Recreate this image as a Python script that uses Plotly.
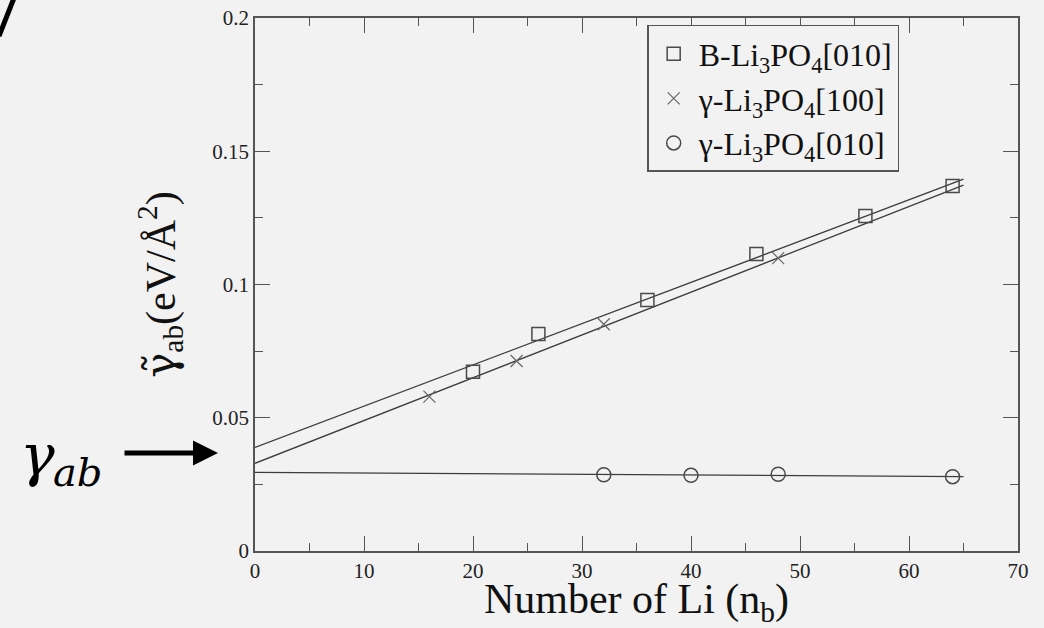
import plotly.graph_objects as go

# ---- data ----
x_B010 = [20, 26, 36, 46, 56, 64]
y_B010 = [0.0673, 0.0814, 0.0942, 0.1114, 0.1257, 0.1370]

x_g100 = [16, 24, 32, 48]
y_g100 = [0.0579, 0.0713, 0.0851, 0.1099]

x_g010 = [32, 40, 48, 64]
y_g010 = [0.0286, 0.0284, 0.0288, 0.0279]

fit_x = [0, 65]
fit_B010 = [0.0389, 0.1395]
fit_g100 = [0.0329, 0.1373]
fit_g010 = [0.0295, 0.0279]

names = ["B-Li<sub>3</sub>PO<sub>4</sub>[010]",
         "γ-Li<sub>3</sub>PO<sub>4</sub>[100]",
         "γ-Li<sub>3</sub>PO<sub>4</sub>[010]"]

BG = "#f2f2f2"
INK = "#4a4a4a"
SERIF = "Liberation Serif"

fig = go.Figure()

for fy in (fit_B010, fit_g100, fit_g010):
    fig.add_trace(go.Scatter(x=fit_x, y=fy, mode="lines",
                             line=dict(color="#3c3c3c", width=1.3),
                             showlegend=False, hoverinfo="skip"))

fig.add_trace(go.Scatter(x=x_B010, y=y_B010, mode="markers", name=names[0],
                         marker=dict(symbol="square-open", size=13,
                                     color=INK, line=dict(width=1.5, color=INK))))
fig.add_trace(go.Scatter(x=x_g100, y=y_g100, mode="markers", name=names[1],
                         marker=dict(symbol="x-thin-open", size=12,
                                     color="#666666", line=dict(width=1.2, color="#666666"))))
fig.add_trace(go.Scatter(x=x_g010, y=y_g010, mode="markers", name=names[2],
                         marker=dict(symbol="circle-open", size=14,
                                     color=INK, line=dict(width=1.5, color=INK))))

axis_common = dict(
    showline=True, linecolor="#555555", linewidth=1.5, mirror="ticks",
    ticks="inside", ticklen=15, tickwidth=1.3, tickcolor="#555555",
    showgrid=False, zeroline=False,
    tickfont=dict(family=SERIF, size=21, color="#222222"),
)

fig.update_xaxes(range=[0, 70], dtick=10, tick0=0,
                 minor=dict(dtick=5, ticks="inside", ticklen=8, tickcolor="#555555", tickwidth=1.3, showgrid=False),
                 title=dict(text="Number of Li (n<sub>b</sub>)",
                            font=dict(family=SERIF, size=42, color="#111111"), standoff=0),
                 **axis_common)
fig.update_yaxes(range=[0, 0.2], dtick=0.05, tick0=0,
                 tickvals=[0, 0.05, 0.1, 0.15, 0.2], ticktext=["0", "0.05", "0.1", "0.15", "0.2"],
                 minor=dict(dtick=0.025, ticks="inside", ticklen=8, tickcolor="#555555", tickwidth=1.3, showgrid=False),
                 title=dict(text="<span style=\"font-family:'DejaVu Serif'\">γ\u0303</span><sub>ab</sub>(eV/Å<sup>2</sup>)",
                            font=dict(family=SERIF, size=42, color="#111111"), standoff=24),
                 **axis_common)

fig.update_layout(
    width=1044, height=628,
    font=dict(family=SERIF),
    margin=dict(l=255, r=26, t=18, b=77, autoexpand=False),
    paper_bgcolor=BG, plot_bgcolor=BG,
    legend=dict(x=0.514, y=0.987, xanchor="left", yanchor="top",
                bgcolor=BG, bordercolor="#555555", borderwidth=1.5,
                font=dict(family=SERIF, size=32, color="#111111"),
                tracegroupgap=0, itemwidth=40),
    annotations=[
        dict(text="<i>γ</i>", xref="paper", yref="paper",
             x=(18 - 255) / 763, y=(551 - 455) / 533, xanchor="left", yanchor="middle",
             showarrow=False, font=dict(family="DejaVu Serif, serif", size=58, color="#000000")),
        dict(text="<i>ab</i>", xref="paper", yref="paper",
             x=(51 - 255) / 763, y=(551 - 472) / 533, xanchor="left", yanchor="middle",
             showarrow=False, font=dict(family="DejaVu Serif, serif", size=40, color="#000000")),
        dict(text="", xref="paper", yref="paper",
             x=(218 - 255) / 763, y=(551 - 453) / 533,
             ax=-95, ay=0, showarrow=True, arrowhead=2, arrowsize=1.0,
             arrowwidth=5, arrowcolor="#000000"),
    ],
    shapes=[
        dict(type="line", xref="paper", yref="paper",
             x0=(14 - 255) / 763, y0=(551 + 2) / 533,
             x1=(-1 - 255) / 763, y1=(551 - 36) / 533,
             line=dict(color="#000000", width=5)),
    ],
)

fig.write_html("out.html", config={"displayModeBar": False},
               post_script="document.body.style.margin='0';document.documentElement.style.background='#f2f2f2';")
